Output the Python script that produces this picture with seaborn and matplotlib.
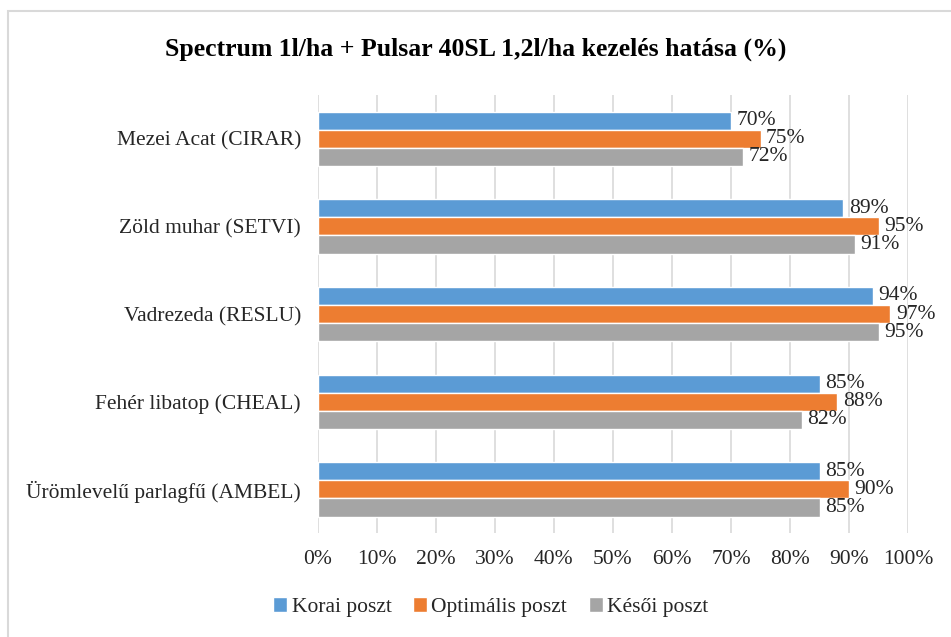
import pandas as pd
import numpy as np
import matplotlib.pyplot as plt
import seaborn as sns
from matplotlib.patches import Rectangle
from matplotlib.ticker import PercentFormatter

categories = [
    'Mezei Acat (CIRAR)',
    'Zöld muhar (SETVI)',
    'Vadrezeda (RESLU)',
    'Fehér libatop (CHEAL)',
    'Ürömlevelű parlagfű (AMBEL)',
]
series_names = ['Korai poszt', 'Optimális poszt', 'Késői poszt']
korai = [70, 89, 94, 85, 85]
optimalis = [75, 95, 97, 88, 90]
kesoi = [72, 91, 95, 82, 85]
colors = ['#5B9BD5', '#ED7D31', '#A5A5A5']
title = 'Spectrum 1l/ha + Pulsar 40SL 1,2l/ha kezelés hatása (%)'

df = pd.DataFrame({
    'kategoria': categories * 3,
    'kezeles': np.repeat(series_names, len(categories)),
    'ertek': korai + optimalis + kesoi,
})

sns.set_theme(style='white')
plt.rcParams['font.family'] = ['Liberation Serif', 'DejaVu Serif']

fig = plt.figure(figsize=(9.51, 6.37), dpi=100)
ax = fig.add_axes([0.334, 0.163, 0.621, 0.688])

sns.barplot(
    data=df, x='ertek', y='kategoria', hue='kezeles',
    hue_order=series_names, order=categories, palette=colors,
    orient='h', width=0.62, saturation=1, ax=ax, errorbar=None,
)

# címkék a sávok végén
for cont in ax.containers:
    ax.bar_label(cont, fmt='%d%%', padding=4, fontsize=15.5, color='#262626')

ax.set_xlim(0, 100)
ax.set_xticks(np.arange(0, 101, 10))
ax.xaxis.set_major_formatter(PercentFormatter(decimals=0))
ax.set_xlabel('')
ax.set_ylabel('')
ax.tick_params(axis='x', length=0, pad=12, labelsize=15.5, colors='#262626')
ax.tick_params(axis='y', length=0, pad=12, labelsize=15.5, colors='#262626')
ax.grid(True, axis='x', color='#D9D9D9', linewidth=1.2)
ax.set_axisbelow(True)
for s in ax.spines.values():
    s.set_visible(False)

ax.legend(
    loc='center', bbox_to_anchor=(0.516, 0.047),
    bbox_transform=fig.transFigure, ncol=3, frameon=False,
    fontsize=15.5, handlelength=0.65, handleheight=0.65,
    handletextpad=0.2, columnspacing=1.0,
)
for t in ax.get_legend().get_texts():
    t.set_color('#262626')

fig.text(0.5, 0.922, title, ha='center', va='center',
         fontsize=18.5, fontweight='bold', color='black')

fig.patches.append(Rectangle((0.008, -0.01), 1.0, 0.993, transform=fig.transFigure,
                             fill=False, edgecolor='#D9D9D9', linewidth=1.5))

plt.savefig('out.png', dpi=100)
plt.close()
